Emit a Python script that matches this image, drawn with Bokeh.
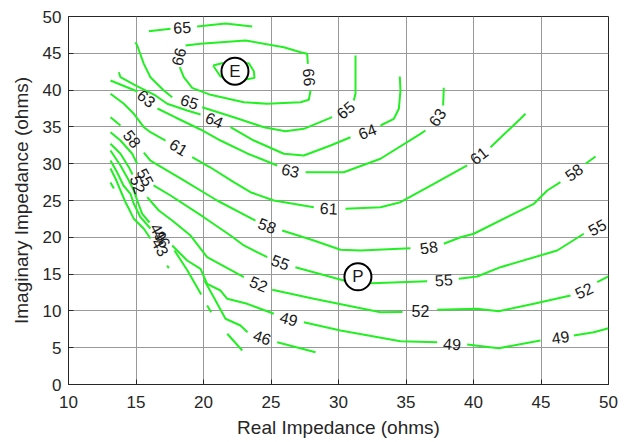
import numpy as np
from bokeh.plotting import figure
from bokeh.models import Range1d, ColumnDataSource, FixedTicker
from bokeh.embed import file_html
from bokeh.resources import INLINE
from bokeh.core.properties import value

nan = np.nan

# ---- axis ticks ----
x_ticks = [10, 15, 20, 25, 30, 35, 40, 45, 50]
y_ticks = [0, 5, 10, 15, 20, 25, 30, 35, 40, 45, 50]

# ---- contour lines (real, imaginary impedance in ohms); NaN = gap for label ----
c67_x = [20.71, 21.26, 21.63, 23.24, 23.78, 23.73, 23.36, 21.37, 20.71]
c67_y = [43.34, 41.85, 41.75, 41.47, 41.66, 42.56, 43.64, 43.64, 43.34]

c66_x = [27.93, 27.80, 27.19, 24.72, 22.99, 20.52, 19.16, 18.54, 18.24, nan,
         18.67, 19.78, 23.11, 25.95, 27.19, 27.68, 27.73]
c66_y = [39.95, 38.68, 38.36, 38.14, 38.36, 39.36, 40.31, 41.75, 43.11, nan,
         46.06, 46.29, 46.74, 45.83, 45.15, 44.93, 43.57]

c65a_x = [15.95, 17.56, nan, 19.53, 21.63, 23.61]
c65a_y = [48.00, 48.33, nan, 48.64, 49.05, 48.64]

c65b_x = [14.96, 15.09, 15.58, 16.07, 17.06, 17.68, nan,
          19.90, 22.24, 24.47, 26.07, 27.43, 29.53, nan,
          31.13, 31.26, 31.26]
c65b_y = [46.51, 46.06, 43.57, 41.75, 39.95, 39.04, nan,
          37.68, 36.32, 34.96, 34.42, 34.74, 36.32, nan,
          38.59, 39.50, 44.70]

c64_x = [13.73, 13.85, 14.96, 16.44, 17.31, 18.79, 19.78, nan,
         22.00, 23.73, 25.95, 27.43, 29.41, 30.89, nan,
         33.11, 34.10, 34.47, 34.59, 34.54]
c64_y = [42.43, 41.75, 40.63, 39.27, 38.14, 37.23, 36.68, nan,
         34.96, 33.15, 31.35, 31.11, 32.47, 33.60, nan,
         35.19, 36.10, 37.46, 39.95, 41.85]

c63_x = [13.11, 15.11, nan, 16.59, 17.93, 19.78, 21.26, 23.24, 25.46, nan,
         27.56, 30.39, 33.11, 36.07, 36.44, nan, 37.75, 37.80]
c63_y = [41.30, 39.81, nan, 37.50, 36.28, 34.65, 33.15, 31.39, 29.76, nan,
         28.84, 28.84, 30.67, 34.06, 34.51, nan, 37.91, 40.31]

c61_x = [13.11, 14.10, 14.84, 15.58, 16.07, 17.19, nan,
         19.16, 20.52, 22.24, 23.48, 25.21, 28.17, nan,
         30.52, 33.11, 34.59, 37.06, 39.53, nan,
         41.26, 43.48, 43.85]
c61_y = [39.50, 38.14, 36.78, 34.96, 34.28, 33.15, nan,
         30.88, 29.48, 27.49, 26.13, 25.00, 24.09, nan,
         23.87, 24.09, 24.77, 27.26, 29.76, nan,
         32.24, 36.10, 36.78]

c58_x = [13.11, 13.85, nan, 15.58, 16.07, 18.54, 21.01, 23.85, nan,
         25.83, 28.17, 30.15, 31.63, 35.33, nan,
         37.80, 39.04, 40.02, 44.47, 45.46, 46.44, nan, 48.30, 49.04]
c58_y = [36.32, 35.19, nan, 31.52, 30.43, 27.72, 25.00, 22.28, nan,
         20.92, 19.57, 18.30, 18.21, 18.52, nan,
         19.12, 20.01, 20.48, 24.55, 26.36, 27.49, nan, 29.99, 30.98]

c55_x = [13.11, 13.85, 14.72, 15.09, nan, 16.30, 17.56, 20.02, 22.00, 22.99, 24.72, nan,
         26.81, 30.39, 32.50, 36.57, nan, 38.91, 40.27, 42.00, 46.20, 48.17]
c55_y = [34.28, 33.15, 31.35, 29.99, nan, 27.04, 25.68, 22.73, 20.24, 18.89, 17.30, nan,
         15.94, 14.13, 13.76, 14.04, nan, 14.36, 14.67, 15.94, 18.21, 20.48]

c52_x = [13.11, 13.85, 14.47, 14.74, nan, 15.83, 16.69, 17.68, 19.04, 20.27, 22.99, nan,
         25.09, 28.17, 33.11, 34.74, nan, 37.31, 40.27, 41.87, 44.47, 47.19, nan, 49.16, 50.00]
c52_y = [32.70, 31.35, 29.53, 28.53, nan, 25.45, 23.64, 22.28, 20.24, 17.30, 14.58, nan,
         12.87, 11.64, 9.82, 9.85, nan, 10.15, 10.29, 9.96, 10.96, 12.09, nan, 13.90, 14.70]

c49_x = [13.11, 13.85, 14.47, 14.84, 15.09, 15.46, 16.00, nan,
         17.68, 18.79, 19.78, 20.27, 21.26, 21.76, 23.24, 25.21, nan,
         27.43, 30.15, 34.59, 37.31, nan, 39.53, 41.87, 44.96, nan, 47.43, 48.91, 50.00]
c49_y = [31.79, 29.76, 27.72, 26.36, 25.00, 23.19, 22.01, nan,
         18.89, 16.85, 15.72, 13.68, 12.77, 11.64, 10.96, 9.61, nan,
         8.46, 7.34, 5.88, 5.75, nan, 5.43, 4.93, 5.98, nan, 6.66, 7.11, 7.65]

c46_x = [13.11, 13.61, 14.07, 14.59, 14.84, 15.33, 16.07, nan,
         17.85, 18.81, 19.83, nan,
         20.07, 20.76, 21.63, 22.74, 23.26, nan, 25.46, 28.30]
c46_y = [30.43, 28.80, 27.04, 25.91, 24.55, 22.73, 21.20, nan,
         18.21, 15.49, 12.23, nan,
         14.13, 11.86, 8.93, 8.02, 7.11, nan, 5.75, 4.39]

c43_x = [13.11, 13.48, 13.85, 14.22, 14.47, 14.84, 15.58, 16.07, nan,
         20.27, 20.57, nan, 21.76, 22.87, nan, 17.31, 17.43, nan, 13.11, 13.36]
c43_y = [29.35, 27.99, 26.36, 24.77, 23.87, 22.51, 21.16, 19.84, nan,
         10.73, 9.82, nan, 6.89, 4.62, nan, 16.17, 15.80, nan, 27.45, 26.63]

contours = [(c67_x, c67_y), (c66_x, c66_y), (c65a_x, c65a_y), (c65b_x, c65b_y),
            (c64_x, c64_y), (c63_x, c63_y), (c61_x, c61_y), (c58_x, c58_y),
            (c55_x, c55_y), (c52_x, c52_y), (c49_x, c49_y), (c46_x, c46_y),
            (c43_x, c43_y)]

# ---- contour labels ----
lab_text = ["65", "66", "66", "65", "65", "64", "64", "63", "63", "63",
            "61", "61", "61", "58", "58", "58", "58", "55", "55", "55", "55",
            "52", "52", "52", "52", "49", "49", "49", "49", "46", "46", "43"]
lab_x = [18.42, 18.15, 27.85, 18.97, 30.52, 20.81, 32.13, 15.78, 26.44, 37.31,
         18.17, 29.28, 40.39, 14.72, 24.72, 36.69, 47.43, 15.70, 25.70, 37.80, 49.16,
         15.15, 24.10, 36.07, 48.17, 16.69, 26.32, 38.42, 46.44, 16.94, 24.35, 16.81]
lab_y = [48.55, 44.55, 41.75, 38.45, 37.30, 35.95, 34.38, 38.86, 29.08, 36.32,
         32.24, 23.95, 31.11, 33.38, 21.60, 18.65, 28.84, 28.17, 16.62, 14.23, 21.37,
         27.17, 13.68, 10.05, 12.77, 20.69, 8.93, 5.53, 6.43, 19.80, 6.43, 18.65]
lab_angle = [3, 75, -86, -18, 40, -23, 21, -40, -13, 55,
             -32, -3, 38, -52, -20, 8, 36, -62, -20, 4, 28,
             -72, -22, 0, 26, -60, -15, -4, 8, -60, -18, -60]

# ---- marked points ----
mark_text = ["E", "P"]
mark_x = [22.33, 31.44]
mark_y = [42.57, 14.63]

FONT = "Liberation Sans"
GREEN = "#22f022"

p = figure(frame_width=540, frame_height=368, output_backend="svg", toolbar_location=None,
           x_range=Range1d(10, 50), y_range=Range1d(0, 50),
           min_border_left=68, min_border_right=14, min_border_top=16, min_border_bottom=56)

p.xaxis.ticker = FixedTicker(ticks=x_ticks)
p.yaxis.ticker = FixedTicker(ticks=y_ticks)
p.xaxis.axis_label = "Real Impedance (ohms)"
p.yaxis.axis_label = "Imaginary Impedance (ohms)"
for ax in (p.xaxis[0], p.yaxis[0]):
    ax.axis_label_text_font = FONT
    ax.axis_label_text_font_style = "normal"
    ax.axis_label_text_font_size = "19px"
    ax.axis_label_text_color = "#262626"
    ax.major_label_text_font = FONT
    ax.major_label_text_font_size = "17px"
    ax.major_label_text_color = "#262626"
    ax.axis_line_color = "#262626"
    ax.major_tick_line_color = "#262626"
    ax.major_tick_in = 5
    ax.major_tick_out = 0
    ax.minor_tick_line_color = None
p.xaxis.major_label_standoff = 11
p.yaxis.major_label_standoff = 7
p.xaxis.axis_label_standoff = 6
p.yaxis.axis_label_standoff = 8

p.grid.grid_line_color = "#999999"
p.grid.grid_line_alpha = 1.0
p.outline_line_color = "#262626"
p.outline_line_alpha = 1.0
p.background_fill_color = "white"
p.border_fill_color = "white"

for cx, cy in contours:
    p.line(np.array(cx, dtype=float), np.array(cy, dtype=float),
           line_color=GREEN, line_width=2)

lab_src = ColumnDataSource(dict(x=lab_x, y=lab_y, t=lab_text, a=lab_angle))
p.text(x="x", y="y", text="t", angle="a", angle_units="deg", source=lab_src,
       text_align="center", text_baseline="middle", text_font=value(FONT),
       text_font_size="16px", text_color="#1a1a1a")

p.scatter(x=mark_x, y=mark_y, size=27, marker="circle", fill_color="white",
          line_color="black", line_width=2)
p.text(x=mark_x, y=mark_y, text=mark_text, text_align="center", text_baseline="middle",
       text_font=value(FONT), text_font_size="17px", text_color="#1a1a1a")

open("out.html", "w").write(file_html(p, INLINE))
